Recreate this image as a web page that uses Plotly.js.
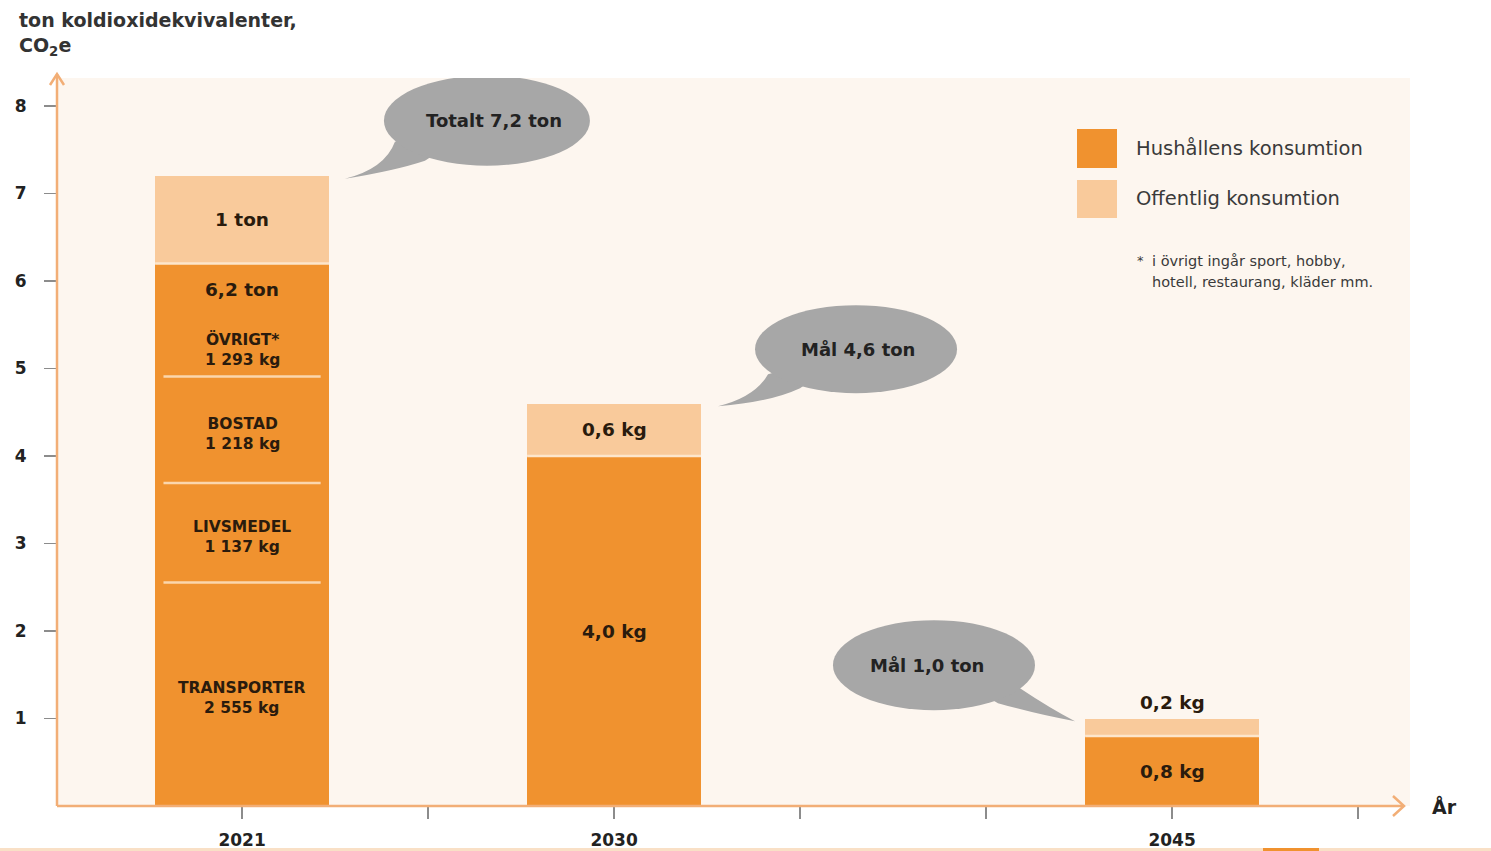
<!DOCTYPE html>
<html>
<head>
<meta charset="utf-8">
<script src="https://cdn.plot.ly/plotly-3.0.1.min.js"></script>
<style>html,body{margin:0;padding:0;background:#fff;}#chart{width:1491px;height:851px;}</style>
</head>
<body>
<div id="chart"></div>
<script>
// ---------- DATA ----------
const years = ['2021', '2030', '2045'];
const household = [6.2, 4.0, 0.8];          // ton CO2e, Hushållens konsumtion
const publicCons = [1.0, 0.6, 0.2];         // ton CO2e, Offentlig konsumtion
const householdLabels = ['6,2 ton', '4,0 kg', '0,8 kg'];
const publicLabels = ['1 ton', '0,6 kg', '0,2 kg'];
const bubbleTexts = ['Totalt 7,2 ton', 'Mål 4,6 ton', 'Mål 1,0 ton'];
const segNames2021 = ['TRANSPORTER', 'LIVSMEDEL', 'BOSTAD', 'ÖVRIGT*'];
const segKg2021 = [2555, 1137, 1218, 1293];
const legendNames = ['Hushållens konsumtion', 'Offentlig konsumtion'];
const footnoteLines = ['i övrigt ingår sport, hobby,', 'hotell, restaurang, kläder mm.'];
const yTicks = [1, 2, 3, 4, 5, 6, 7, 8];

// ---------- STYLE / LAYOUT ----------
const slots = [0, 2, 5];                 // axis slot of each year (7 evenly spaced ticks)
const W = 1491, H = 851;
const M = {l: 57, r: 81, t: 78, b: 45};
const plotW = W - M.l - M.r, plotH = H - M.t - M.b;
const xr = [-0.995, -0.995 + plotW / 186];
const yr = [0, plotH / 87.5];
const pxX = plotW / (xr[1] - xr[0]);
const pxY = plotH / (yr[1] - yr[0]);
const barW = 0.935;
const cHouse = '#f0922f', cPublic = '#f9ca9b';
const cAxis = '#f2ae76', cTick = '#8c8c8c', cBubble = '#a7a7a7';
const cText = '#2a1b0d';
const FONT = 'DejaVu Sans, Liberation Sans, Arial, sans-serif';
const px2paperX = p => (p - M.l) / plotW;
const px2paperY = p => (H - M.b - p) / plotH;

const traces = [
  {type: 'bar', x: slots, y: household, width: barW, marker: {color: cHouse, line: {width: 0}},
   hoverinfo: 'skip', showlegend: false},
  {type: 'bar', x: slots, y: publicCons, width: barW, marker: {color: cPublic, line: {width: 0}},
   hoverinfo: 'skip', showlegend: false}
];

const shapes = [];
const annotations = [];

// separators between household and public
slots.forEach((s, i) => {
  shapes.push({type: 'line', xref: 'x', yref: 'y', x0: s - barW / 2, x1: s + barW / 2,
    y0: household[i], y1: household[i], line: {color: '#fde6cc', width: 2.5}});
});
// 2021 inner separators + segment labels
let cum = 0;
segKg2021.forEach((kg, k) => {
  const h = kg / 1000;
  const mid = cum + h / 2;
  const kgTxt = Math.floor(kg / 1000) + ' ' + String(kg % 1000).padStart(3, '0') + ' kg';
  annotations.push({xref: 'x', yref: 'y', x: slots[0], y: mid, text: segNames2021[k] + '<br>' + kgTxt,
    showarrow: false, font: {family: FONT, size: 15.5, color: cText, weight: 'bold'},
    yshift: k === segKg2021.length - 1 ? -30 : -4, align: 'center'});
  cum += h;
  if (k < segKg2021.length - 1) {
    shapes.push({type: 'line', xref: 'x', yref: 'y', x0: slots[0] - barW / 2 + 0.045, x1: slots[0] + barW / 2 - 0.045,
      y0: cum, y1: cum, line: {color: '#fbd6ad', width: 2.5}});
  }
});

// value labels
slots.forEach((s, i) => {
  const total = household[i] + publicCons[i];
  const hy = i === 0 ? household[i] - 0.3 : household[i] / 2;
  annotations.push({xref: 'x', yref: 'y', x: s, y: hy, text: householdLabels[i], showarrow: false,
    font: {family: FONT, size: 18.5, color: cText, weight: 'bold'}});
  const roomPx = publicCons[i] * pxY;
  const py = roomPx > 30 ? household[i] + publicCons[i] / 2 : total + 16 / pxY;
  annotations.push({xref: 'x', yref: 'y', x: s, y: py, text: publicLabels[i], showarrow: false,
    font: {family: FONT, size: 18.5, color: cText, weight: 'bold'}});
});

// speech bubbles (geometry in px offsets relative to tail tip at bar top)
const bubbleGeo = [
  {tipDx: 0.553, center: [142, -58], rx: 103, ry: 45, textDx: 7,
   tail: [[50, -37], [40, -10], [0, 0], [50, -8], [80, -18]]},
  {tipDx: 0.559, center: [138, -57], rx: 101, ry: 44, textDx: 2,
   tail: [[50, -32], [37, -9], [0, 0], [52, -4], [82, -18]]},
  {tipDx: -0.522, center: [-141, -56], rx: 101, ry: 45, textDx: -7,
   tail: [[-77, -18], [-35, -6], [0, 0], [-25, -13], [-55, -33]]}
];
bubbleGeo.forEach((g, i) => {
  const total = household[i] + publicCons[i];
  const tip = [slots[i] + g.tipDx, total - 0.03];
  const P = (dx, dy) => [tip[0] + dx / pxX, tip[1] - dy / pxY];
  const c = P(g.center[0], g.center[1]);
  const t = g.tail.map(p => P(p[0], p[1]));
  const path = `M ${t[0][0]},${t[0][1]} Q ${t[1][0]},${t[1][1]} ${t[2][0]},${t[2][1]} Q ${t[3][0]},${t[3][1]} ${t[4][0]},${t[4][1]} L ${c[0]},${c[1]} Z`;
  shapes.push({type: 'path', xref: 'x', yref: 'y', path: path, fillcolor: cBubble, line: {width: 0}});
  shapes.push({type: 'circle', xref: 'x', yref: 'y', x0: c[0] - g.rx / pxX, x1: c[0] + g.rx / pxX,
    y0: c[1] - g.ry / pxY, y1: c[1] + g.ry / pxY, fillcolor: cBubble, line: {width: 0}});
  annotations.push({xref: 'x', yref: 'y', x: c[0] + g.textDx / pxX, y: c[1], text: bubbleTexts[i], showarrow: false,
    font: {family: FONT, size: 18, color: '#222', weight: 'bold'}});
});

// axes lines with arrows
shapes.push({type: 'line', xref: 'paper', yref: 'paper', x0: 0, x1: px2paperX(1404), y0: 0, y1: 0,
  line: {color: cAxis, width: 2.5}});
shapes.push({type: 'path', xref: 'paper', yref: 'paper',
  path: `M ${px2paperX(1393)},${px2paperY(796)} L ${px2paperX(1404)},${px2paperY(806)} L ${px2paperX(1393)},${px2paperY(816)}`,
  line: {color: cAxis, width: 2.5}});
shapes.push({type: 'line', xref: 'paper', yref: 'paper', x0: 0, x1: 0, y0: 0, y1: px2paperY(74),
  line: {color: cAxis, width: 2.5}});
shapes.push({type: 'path', xref: 'paper', yref: 'paper',
  path: `M ${px2paperX(50)},${px2paperY(85)} L ${px2paperX(57)},${px2paperY(74)} L ${px2paperX(64)},${px2paperY(85)}`,
  line: {color: cAxis, width: 2.5}});

// legend
[cHouse, cPublic].forEach((col, k) => {
  const top = k === 0 ? 129 : 180, bot = k === 0 ? 168 : 218;
  shapes.push({type: 'rect', xref: 'paper', yref: 'paper', x0: px2paperX(1077), x1: px2paperX(1117),
    y0: px2paperY(bot), y1: px2paperY(top), fillcolor: col, line: {width: 0}});
  annotations.push({xref: 'paper', yref: 'paper', x: px2paperX(1134), y: px2paperY((top + bot) / 2),
    xanchor: 'left', yanchor: 'middle', text: legendNames[k], showarrow: false,
    font: {family: FONT, size: 19.5, color: '#3a3a3a'}});
});
annotations.push({xref: 'paper', yref: 'paper', x: px2paperX(1135), y: px2paperY(260), xanchor: 'left',
  yanchor: 'middle', text: '*', showarrow: false, font: {family: FONT, size: 13, color: '#3a3a3a'}});
footnoteLines.forEach((ln, k) => {
  annotations.push({xref: 'paper', yref: 'paper', x: px2paperX(1150), y: px2paperY(261 + 21 * k), xanchor: 'left',
    yanchor: 'middle', text: ln, showarrow: false, font: {family: FONT, size: 14.5, color: '#3a3a3a'}});
});

// axis titles
annotations.push({xref: 'paper', yref: 'paper', x: px2paperX(17), y: px2paperY(20), xanchor: 'left', yanchor: 'middle',
  text: 'ton koldioxidekvivalenter,', showarrow: false, font: {family: FONT, size: 19, color: '#333', weight: 'bold'}});
annotations.push({xref: 'paper', yref: 'paper', x: px2paperX(17), y: px2paperY(47), xanchor: 'left', yanchor: 'middle',
  text: 'CO<sub>2</sub>e', showarrow: false, font: {family: FONT, size: 19, color: '#333', weight: 'bold'}});
annotations.push({xref: 'paper', yref: 'paper', x: px2paperX(1444), y: 0, xanchor: 'center', yanchor: 'middle',
  text: 'År', showarrow: false, font: {family: FONT, size: 19, color: '#222', weight: 'bold'}});

// bottom strip (cropped edge of the source)
shapes.push({type: 'rect', xref: 'paper', yref: 'paper', layer: 'below', x0: px2paperX(0), x1: px2paperX(W),
  y0: px2paperY(851), y1: px2paperY(848), fillcolor: '#f9e0c6', line: {width: 0}});
shapes.push({type: 'rect', xref: 'paper', yref: 'paper', layer: 'below', x0: px2paperX(1263), x1: px2paperX(1319),
  y0: px2paperY(851), y1: px2paperY(848), fillcolor: cHouse, line: {width: 0}});

const layout = {
  width: W, height: H, margin: M,
  paper_bgcolor: '#ffffff', plot_bgcolor: '#fdf6ef',
  barmode: 'stack', showlegend: false,
  font: {family: FONT},
  xaxis: {range: xr, tickvals: slots, ticktext: years, ticks: 'outside', ticklen: 12, tickwidth: 1.5,
    tickcolor: cTick, showgrid: false, zeroline: false, showline: false, fixedrange: true,
    minor: {tick0: 0, dtick: 1, ticks: 'outside', ticklen: 12, tickwidth: 1.5, tickcolor: cTick, showgrid: false},
    ticklabelstandoff: 7, tickfont: {family: FONT, size: 17, color: '#222', weight: 'bold'}},
  yaxis: {range: yr, tickvals: yTicks, ticks: 'outside', ticklen: 12, tickwidth: 1.5,
    tickcolor: cTick, showgrid: false, zeroline: false, showline: false, fixedrange: true,
    ticklabelstandoff: 14, tickfont: {family: FONT, size: 17, color: '#222', weight: 'bold'}},
  shapes: shapes, annotations: annotations
};

Plotly.newPlot('chart', traces, layout, {staticPlot: true, displayModeBar: false});
</script>
</body>
</html>
